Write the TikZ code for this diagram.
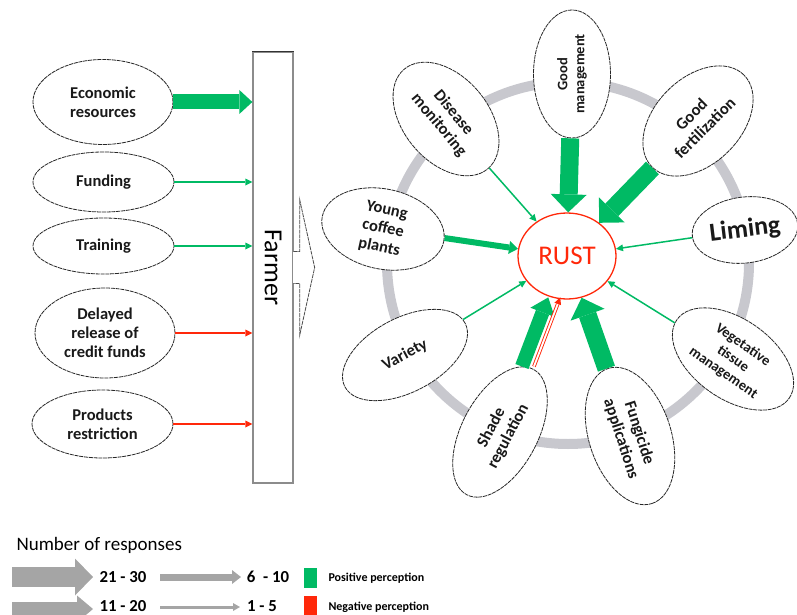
\documentclass[tikz,border=0pt]{standalone}
\usepackage{fontspec}
\setmainfont{Carlito}
\usepackage{xcolor}
\usepackage{tikz}
\usetikzlibrary{shapes.geometric, arrows.meta, positioning}

\definecolor{posgreen}{RGB}{0,186,100}
\definecolor{negred}{RGB}{255,40,10}
\definecolor{ringgray}{RGB}{200,200,206}
\definecolor{keygray}{RGB}{165,165,165}

\begin{document}
\begin{tikzpicture}[
    x=1pt, y=-1pt,
    factor/.style={ellipse, draw=black!85, dash pattern=on 4pt off 0.8pt, line width=0.8pt,
        fill=white, inner sep=0pt, align=center, text=black!90,
        font=\fontsize{16.5pt}{19pt}\selectfont\bfseries},
    small text/.style={font=\fontsize{14.5pt}{17pt}\selectfont\bfseries},
    pos thin/.style={draw=posgreen, line width=1.5pt, -{Triangle[length=7pt,width=7pt,line width=0pt]}},
    neg thin/.style={draw=negred, line width=1.5pt, -{Triangle[length=7pt,width=7pt,line width=0pt]}},
    pos mid/.style={draw=posgreen, line width=6pt, -{Triangle[length=9pt,width=13pt,line width=0pt]}},
    pos bar/.style={draw=posgreen, line width=15pt, -{Triangle[length=13pt,width=24pt,line width=0pt]}},
    pos shade/.style={draw=posgreen, line width=14pt, -{Triangle[length=16pt,width=26pt,line width=0pt]}},
    pos wide/.style={draw=posgreen, line width=18pt, -{Triangle[length=18pt,width=36pt,line width=0pt]}},
    neg double/.style={draw=negred, line width=0.9pt, double=white, double distance=1.8pt,
        -{Triangle[length=7pt,width=7pt,line width=0pt]}},
    key wide/.style={draw=keygray, line width=20pt, -{Triangle[length=18pt,width=37pt,line width=0pt]}},
    key big/.style={draw=keygray, line width=14pt, -{Triangle[length=16pt,width=27pt,line width=0pt]}},
    key mid/.style={draw=keygray, line width=7pt, -{Triangle[length=9pt,width=14pt,line width=0pt]}},
    key thin/.style={draw=keygray, line width=3pt, -{Triangle[length=7pt,width=8pt,line width=0pt]}},
    keynum/.style={font=\fontsize{16.8pt}{19pt}\selectfont\bfseries},
    keytext/.style={anchor=west, font=\fontsize{12pt}{14pt}\selectfont\bfseries}
]
\useasboundingbox (0,0) rectangle (797,615);

\node[factor, minimum width=140pt, minimum height=85pt] (econ) at (103,102) {Economic\\resources};
\node[factor, minimum width=141pt, minimum height=60pt] (fund) at (103.5,182) {Funding};
\node[factor, minimum width=141pt, minimum height=56pt] (train) at (103.5,246) {Training};
\node[factor, minimum width=140pt, minimum height=90pt] (delay) at (105,333) {Delayed\\release of\\credit funds};
\node[factor, minimum width=141pt, minimum height=68pt] (prod) at (102.5,424) {Products\\restriction};

\node[draw=black!45, line width=1.3pt, fill=white, inner sep=0pt, minimum width=40pt, minimum height=431pt]
    (farmer) at (273,267.5) {\rotatebox{-90}{\fontsize{26pt}{30pt}\selectfont Farmer}};
\draw[black!80, line width=0.8pt] (farmer.north west) -- (farmer.north east);
\fill[white] ([shift={(-1pt,-15.5pt)}]farmer.east) rectangle ([shift={(6pt,15.5pt)}]farmer.east);
\draw[black!70, line width=0.8pt, dash pattern=on 4pt off 0.8pt, line join=miter]
    ([yshift=16pt]farmer.east) -- ++(6pt,0pt) -- ++(0pt,52pt) -- ++(15pt,-68pt)
    -- ++(-15pt,-68pt) -- ++(0pt,52pt) -- ++(-6pt,0pt);

\draw[pos bar] (econ) -- (econ -| farmer.west);
\draw[pos thin] (fund) -- (fund -| farmer.west);
\draw[pos thin] (train) -- (train -| farmer.west);
\draw[neg thin] (delay) -- (delay -| farmer.west);
\draw[neg thin] (prod) -- (prod -| farmer.west);

\draw[ringgray, line width=10pt] (568,263) circle[radius=181pt];

\node[ellipse, draw=negred, line width=1.3pt, fill=white, minimum width=98pt, minimum height=86pt,
    text=negred, font=\fontsize{27pt}{30pt}\selectfont] (rust) at (567,256) {RUST};

\node[factor, rotate=-50, minimum width=130pt, minimum height=85pt] (dm) at (446,119) {Disease\\monitoring};
\node[factor, small text, rotate=90, minimum width=128pt, minimum height=77pt] (gm) at (572,74) {Good\\management};
\node[factor, rotate=45, minimum width=130pt, minimum height=86pt] (gf) at (698,121) {Good\\fertilization};
\node[factor, rotate=7, minimum width=106pt, minimum height=66pt, font=\fontsize{26pt}{30pt}\selectfont\bfseries]
    (li) at (745,230) {Liming};
\node[factor, rotate=-12, minimum width=124pt, minimum height=80pt] (yc) at (383,229) {Young\\coffee\\plants};
\node[factor, rotate=28, minimum width=136pt, minimum height=74pt] (va) at (405,355) {Variety};
\node[factor, rotate=62, minimum width=142pt, minimum height=76pt] (sr) at (500,432) {Shade\\regulation};
\node[factor, rotate=-72, minimum width=142pt, minimum height=82pt] (fa) at (630,436) {Fungicide\\applications};
\node[factor, small text, rotate=-35, minimum width=137pt, minimum height=80pt] (vt) at (733,359) {Vegetative\\tissue\\management};

\draw[pos thin] (dm) -- (rust);
\draw[pos wide] (gm) -- (rust);
\draw[pos wide] (gf) -- (rust);
\draw[pos thin] (li) -- (rust);
\draw[pos mid] (yc) -- (rust);
\draw[pos thin] (va) -- (rust);
\draw[pos thin] (vt) -- (rust);
\draw[pos wide] (fa) -- (rust);
\draw[pos shade, transform canvas={xshift=-3pt}] (sr) -- (rust);
\draw[neg double, transform canvas={xshift=9pt}] (sr) -- (rust);

\node[anchor=west, font=\fontsize{19pt}{22pt}\selectfont] (keytitle) at (13,545) {Number of responses};
\node[keynum] (r2130) at (123,577) {21 - 30};
\node[keynum] (r610) at (268,577) {6\ \ - 10};
\node[keynum] (r1120) at (123,606.5) {11 - 20};
\node[keynum] (r15) at (262,606.5) {1 - 5};
\draw[key wide] (12,577) -- (93,577);
\draw[key big] (12,609) -- (93,609);
\draw[key mid] (160,577) -- (241,577);
\draw[key thin] (160,607) -- (240,607);
\fill[posgreen] (304,568) rectangle (317,588);
\fill[negred] (304,596) rectangle (317,616);
\node[keytext] (pos) at (325,578) {Positive perception};
\node[keytext] (neg) at (325,607) {Negative perception};
\end{tikzpicture}
\end{document}
